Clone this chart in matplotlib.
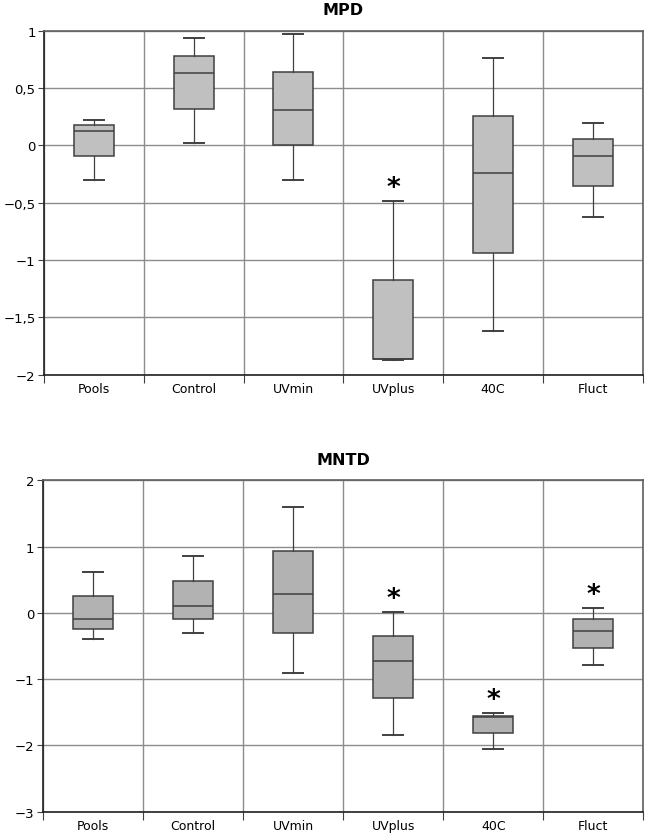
import matplotlib
matplotlib.use("Agg")
import matplotlib.pyplot as plt
from matplotlib.ticker import FixedLocator, FuncFormatter

groups = ["Pools", "Control", "UVmin", "UVplus", "40C", "Fluct"]

# MPD: whisker low, Q1, median, Q3, whisker high
mpd_low = [-0.30, 0.02, -0.30, -1.87, -1.62, -0.62]
mpd_q1 = [-0.09, 0.32, 0.00, -1.866, -0.94, -0.35]
mpd_med = [0.13, 0.63, 0.31, -1.86, -0.24, -0.09]
mpd_q3 = [0.18, 0.78, 0.64, -1.17, 0.26, 0.06]
mpd_high = [0.22, 0.94, 0.97, -0.48, 0.76, 0.20]
mpd_star = ["UVplus"]

# MNTD
mntd_low = [-0.40, -0.30, -0.90, -1.85, -2.05, -0.78]
mntd_q1 = [-0.25, -0.10, -0.30, -1.28, -1.81, -0.53]
mntd_med = [-0.10, 0.11, 0.29, -0.72, -1.57, -0.27]
mntd_q3 = [0.25, 0.48, 0.93, -0.35, -1.55, -0.09]
mntd_high = [0.61, 0.86, 1.59, 0.02, -1.51, 0.08]
mntd_star = ["UVplus", "40C", "Fluct"]


def comma(v, pos):
    s = "%g" % v
    return s.replace(".", ",").replace("-", "\u2212")


def panel(ax, title, low, q1, med, q3, high, stars, ylim, step, fill):
    stats = []
    for i, g in enumerate(groups):
        stats.append(dict(label=g, whislo=low[i], q1=q1[i], med=med[i],
                          q3=q3[i], whishi=high[i], fliers=[]))
    pos = list(range(1, len(groups) + 1))
    ax.bxp(stats, positions=pos, widths=0.4, patch_artist=True,
           showfliers=False,
           boxprops=dict(facecolor=fill, edgecolor="#404040", linewidth=1.1),
           medianprops=dict(color="#404040", linewidth=1.1),
           whiskerprops=dict(color="#404040", linewidth=0.9),
           capprops=dict(color="#404040", linewidth=1.4),
           capwidths=0.2, zorder=3)
    for g in stars:
        i = groups.index(g)
        ax.annotate("*", (pos[i], high[i]), xytext=(0, 0),
                    textcoords="offset points", ha="center", va="bottom",
                    fontsize=19, fontweight="bold")
    ax.set_xlim(0.5, len(groups) + 0.5)
    ax.set_ylim(*ylim)
    ticks = []
    v = ylim[0]
    while v <= ylim[1] + 1e-9:
        ticks.append(round(v, 3))
        v += step
    ax.set_yticks(ticks)
    ax.yaxis.set_major_formatter(FuncFormatter(comma))
    ax.xaxis.set_major_locator(FixedLocator([p + 0.5 for p in [0] + pos]))
    ax.xaxis.set_major_formatter(FuncFormatter(lambda v, p: ""))
    ax.xaxis.set_minor_locator(FixedLocator(pos))
    ax.set_xticklabels(groups, minor=True)
    ax.tick_params(axis="x", which="minor", length=0, labelsize=9, pad=5)
    ax.tick_params(axis="x", which="major", length=6, direction="out",
                   color="#404040")
    ax.tick_params(axis="y", length=4, pad=2, labelsize=9.5, color="#404040")
    ax.grid(True, which="major", color="#8c8c8c", linewidth=1.0, zorder=0)
    ax.set_axisbelow(True)
    for s in ["left", "bottom"]:
        ax.spines[s].set_color("#202020")
        ax.spines[s].set_linewidth(1.2)
    for s in ["top", "right"]:
        ax.spines[s].set_color("#606060")
        ax.spines[s].set_linewidth(1.2)
    ax.set_title(title, fontsize=11.5, fontweight="bold", pad=12)


fig = plt.figure(figsize=(6.46, 8.37), dpi=100)
ax1 = fig.add_axes([0.068, 0.551, 0.927, 0.411])
ax2 = fig.add_axes([0.066, 0.029, 0.930, 0.396])

panel(ax1, "MPD", mpd_low, mpd_q1, mpd_med, mpd_q3, mpd_high, mpd_star,
      (-2, 1), 0.5, "#c0c0c0")
panel(ax2, "MNTD", mntd_low, mntd_q1, mntd_med, mntd_q3, mntd_high,
      mntd_star, (-3, 2), 1.0, "#b2b2b2")

fig.savefig("out.png", dpi=100)
